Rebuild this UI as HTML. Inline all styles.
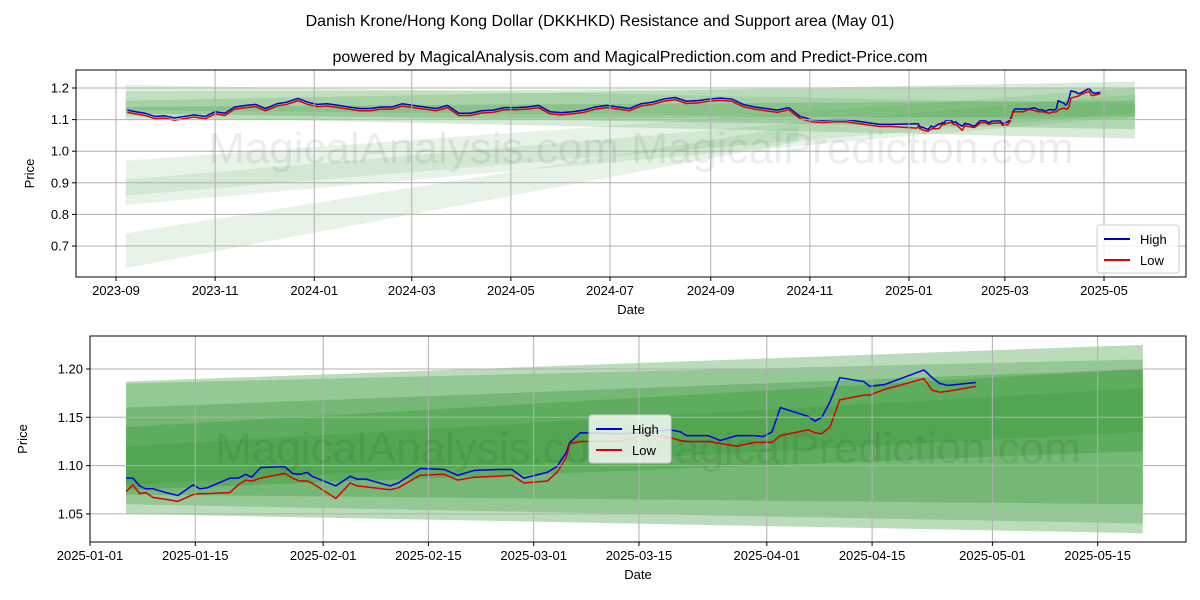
<!DOCTYPE html>
<html><head><meta charset="utf-8">
<style>
body{margin:0;background:#fff;}
svg{display:block;font-family:"Liberation Sans","DejaVu Sans",sans-serif;}
</style></head>
<body>
<svg id="chart" width="1200" height="600" viewBox="0 0 1200 600">
<text x="600" y="26" text-anchor="middle" font-size="16">Danish Krone/Hong Kong Dollar (DKKHKD) Resistance and Support area (May 01)</text>
<text x="630" y="62" text-anchor="middle" font-size="16">powered by MagicalAnalysis.com and MagicalPrediction.com and Predict-Price.com</text>
<g id="top"></g>
<g id="bot"></g>
</svg>
<script>
// ---- top chart data (days since 2023-09-01) ----
const topDays = [7,12,18,24,30,36,42,48,55,61,67,73,80,86,92,99,105,112,118,124,130,137,143,150,157,163,170,176,183,190,197,204,211,218,225,232,239,246,253,260,267,274,281,288,295,302,309,316,323,330,337,344,351,358,365,372,379,386,393,400,407,414,421,428,435,442,449,456,463,470,477];
const topHigh = [1.13,1.125,1.12,1.11,1.112,1.105,1.11,1.115,1.11,1.125,1.12,1.14,1.145,1.148,1.135,1.15,1.155,1.167,1.155,1.148,1.15,1.145,1.14,1.135,1.135,1.14,1.14,1.15,1.145,1.14,1.135,1.145,1.12,1.12,1.128,1.13,1.138,1.138,1.14,1.145,1.125,1.122,1.125,1.13,1.14,1.145,1.14,1.135,1.15,1.155,1.165,1.17,1.158,1.16,1.165,1.168,1.165,1.148,1.14,1.135,1.13,1.138,1.11,1.1,1.098,1.1,1.1,1.095,1.09,1.085,1.085];
// ---- bottom chart data (days since 2025-01-01) ----
const botDays = [4.8,5.7,6.6,7.4,8.4,10.1,11.7,13.7,14.6,15.6,18.6,19.7,20.7,21.5,22.7,25.9,26.9,27.9,28.9,29.5,32.7,34.6,35.5,36.7,39.9,41,43.9,47.1,48.9,51.1,54.3,56.1,57.7,60.8,62.1,63.3,63.8,64.8,65.2,70.5,73.8,77.1,78.5,79.3,82.2,83.8,86,88.4,89.5,90.7,91.8,95.5,96.4,97.3,98.4,99.7,102.9,103.7,105.7,110.9,112,113,114.1,117.8];
const botHigh = [1.087,1.087,1.079,1.076,1.076,1.072,1.069,1.080,1.076,1.077,1.087,1.087,1.091,1.088,1.098,1.099,1.092,1.091,1.093,1.089,1.079,1.089,1.086,1.086,1.079,1.082,1.097,1.096,1.090,1.095,1.096,1.096,1.087,1.093,1.099,1.113,1.124,1.131,1.134,1.133,1.134,1.137,1.135,1.131,1.131,1.126,1.131,1.131,1.130,1.135,1.160,1.151,1.146,1.150,1.166,1.191,1.187,1.182,1.184,1.199,1.191,1.185,1.183,1.186];
const botLow  = [1.073,1.080,1.071,1.072,1.067,1.065,1.063,1.070,1.071,1.071,1.072,1.080,1.085,1.084,1.087,1.092,1.087,1.084,1.084,1.082,1.066,1.082,1.079,1.078,1.075,1.077,1.090,1.091,1.085,1.088,1.089,1.090,1.082,1.084,1.093,1.108,1.123,1.124,1.125,1.125,1.132,1.129,1.126,1.125,1.125,1.123,1.120,1.124,1.124,1.124,1.131,1.137,1.134,1.133,1.140,1.168,1.173,1.173,1.179,1.190,1.178,1.176,1.177,1.182];
const topYTicks = [0.7,0.8,0.9,1.0,1.1,1.2];
const topXLabels = ["2023-09","2023-11","2024-01","2024-03","2024-05","2024-07","2024-09","2024-11","2025-01","2025-03","2025-05"];
const topXDays = [0,61,122,182,243,304,366,427,488,547,608];
const botYTicks = [1.05,1.10,1.15,1.20];
const botXLabels = ["2025-01-01","2025-01-15","2025-02-01","2025-02-15","2025-03-01","2025-03-15","2025-04-01","2025-04-15","2025-05-01","2025-05-15"];
const botXDays = [0,14,31,45,59,73,90,104,120,134];

const NS="http://www.w3.org/2000/svg";
function mk(parent,tag,attrs,text){const e=document.createElementNS(NS,tag);for(const k in attrs)e.setAttribute(k,attrs[k]);if(text!==undefined)e.textContent=text;parent.appendChild(e);return e;}

function panel(g,box,xs,ys,yTicks,yFmt,xLabels,xDays,bands,series,legendPos,wmY,yTitleX){
  const X=d=>xs.px0+(d-xs.d0)*xs.k, Y=v=>ys.py0+(ys.v0-v)*ys.k;
  const cp=mk(g,'clipPath',{id:g.id+'-clip'});
  mk(cp,'rect',{x:box.x0,y:box.y0,width:box.x1-box.x0,height:box.y1-box.y0});
  const inner=mk(g,'g',{'clip-path':`url(#${g.id}-clip)`});
  bands.forEach(b=>{
    const p=mk(inner,'polygon',{points:`${X(b[0])},${Y(b[2])} ${X(b[1])},${Y(b[4])} ${X(b[1])},${Y(b[5])} ${X(b[0])},${Y(b[3])}`,fill:'#3c9a3c','fill-opacity':b[6]});
    
    
  });
  yTicks.forEach(v=>{
    const l=mk(g,'line',{x1:box.x0,x2:box.x1,y1:Y(v),y2:Y(v),stroke:'#b0b0b0','stroke-width':1});
    
    
    mk(g,'line',{x1:box.x0-4,x2:box.x0,y1:Y(v),y2:Y(v),stroke:'#000'});
    const t=mk(g,'text',{x:box.x0-7,y:Y(v)+4.5,'text-anchor':'end','font-size':13},yFmt(v));
    
    
  });
  xDays.forEach((d,i)=>{
    const l=mk(g,'line',{x1:X(d),x2:X(d),y1:box.y0,y2:box.y1,stroke:'#b0b0b0','stroke-width':1});
    
    
    mk(g,'line',{x1:X(d),x2:X(d),y1:box.y1,y2:box.y1+4,stroke:'#000'});
    const t=mk(g,'text',{x:X(d),y:box.y1+18,'text-anchor':'middle','font-size':13},xLabels[i]);
    
    
  });
  const w=mk(g,'text',{x:(box.x0+box.x1)/2+10,y:wmY,'text-anchor':'middle','font-size':44,fill:'#000','fill-opacity':0.07},'MagicalAnalysis.com    MagicalPrediction.com');
  
  
  series.forEach(s=>{
    const pts=s.d.map((d,i)=>X(d)+','+Y(s.v[i])).join(' ');
    const pl=mk(inner,'polyline',{points:pts,fill:'none',stroke:s.c,'stroke-width':1.5,'stroke-linejoin':'round'});
    
    
  });
  const fr=mk(g,'rect',{x:box.x0,y:box.y0,width:box.x1-box.x0,height:box.y1-box.y0,fill:'none',stroke:'#000','stroke-width':1});
  
  
  const xt=mk(g,'text',{x:(box.x0+box.x1)/2,y:box.y1+37,'text-anchor':'middle','font-size':13},'Date');
  
  
  const yt=mk(g,'text',{x:0,y:0,'text-anchor':'middle','font-size':13,transform:`translate(${yTitleX},${(box.y0+box.y1)/2}) rotate(-90)`},'Price');
  
  
  const lg=mk(g,'g',{});
  
  
  mk(lg,'rect',{x:legendPos[0],y:legendPos[1],width:82,height:48,rx:3,fill:'#fff','fill-opacity':0.8,stroke:'#ccc'});
  series.forEach((s,i)=>{
    const yy=legendPos[1]+14+i*21;
    const le=mk(lg,'g',{});
    
    
    mk(le,'line',{x1:legendPos[0]+7,x2:legendPos[0]+33,y1:yy,y2:yy,stroke:s.c,'stroke-width':2});
    mk(le,'text',{x:legendPos[0]+43,y:yy+5,'font-size':13},s.label);
  });
}

const topAllDays = topDays.concat(botDays.map(d=>d+488));
const topAllHigh = topHigh.concat(botHigh);
const topAllLow = topHigh.map(v=>v-0.007).concat(botLow);
panel(document.getElementById('top'),{x0:76,x1:1186,y0:70,y1:277},{px0:116,d0:0,k:988/608},{py0:88,v0:1.2,k:316},
  topYTicks,v=>v.toFixed(1),topXLabels,topXDays,
  [[6,627,1.21,1.13,1.15,1.10,0.15],[6,627,1.19,1.10,1.20,1.11,0.2],[6,627,1.16,1.11,1.22,1.04,0.2],[6,627,1.14,1.12,1.16,1.07,0.25],
   [6,627,0.97,0.86,1.20,1.12,0.12],[6,627,0.91,0.83,1.18,1.11,0.12],[6,420,0.74,0.63,1.08,1.03,0.12]],
  [{d:topAllDays,v:topAllHigh,c:'#0000cc',n:'high-line-top',label:'High'},{d:topAllDays,v:topAllLow,c:'#dd0000',n:'low-line-top',label:'Low'}],
  [1097,225],163,34);

panel(document.getElementById('bot'),{x0:90,x1:1186,y0:336,y1:542},{px0:90,d0:0,k:7.52},{py0:369,v0:1.2,k:966},
  botYTicks,v=>v.toFixed(2),botXLabels,botXDays,
  [[4.8,140,1.187,1.05,1.225,1.03,0.35],[4.8,140,1.185,1.06,1.21,1.04,0.3],[4.8,140,1.16,1.07,1.20,1.06,0.35],[4.8,140,1.14,1.075,1.20,1.115,0.4],[4.8,140,1.12,1.08,1.18,1.135,0.35]],
  [{d:botDays,v:botHigh,c:'#0000ee',n:'high-line-bottom',label:'High'},{d:botDays,v:botLow,c:'#dd0000',n:'low-line-bottom',label:'Low'}],
  [589,415],463,27);
</script>
</body></html>
